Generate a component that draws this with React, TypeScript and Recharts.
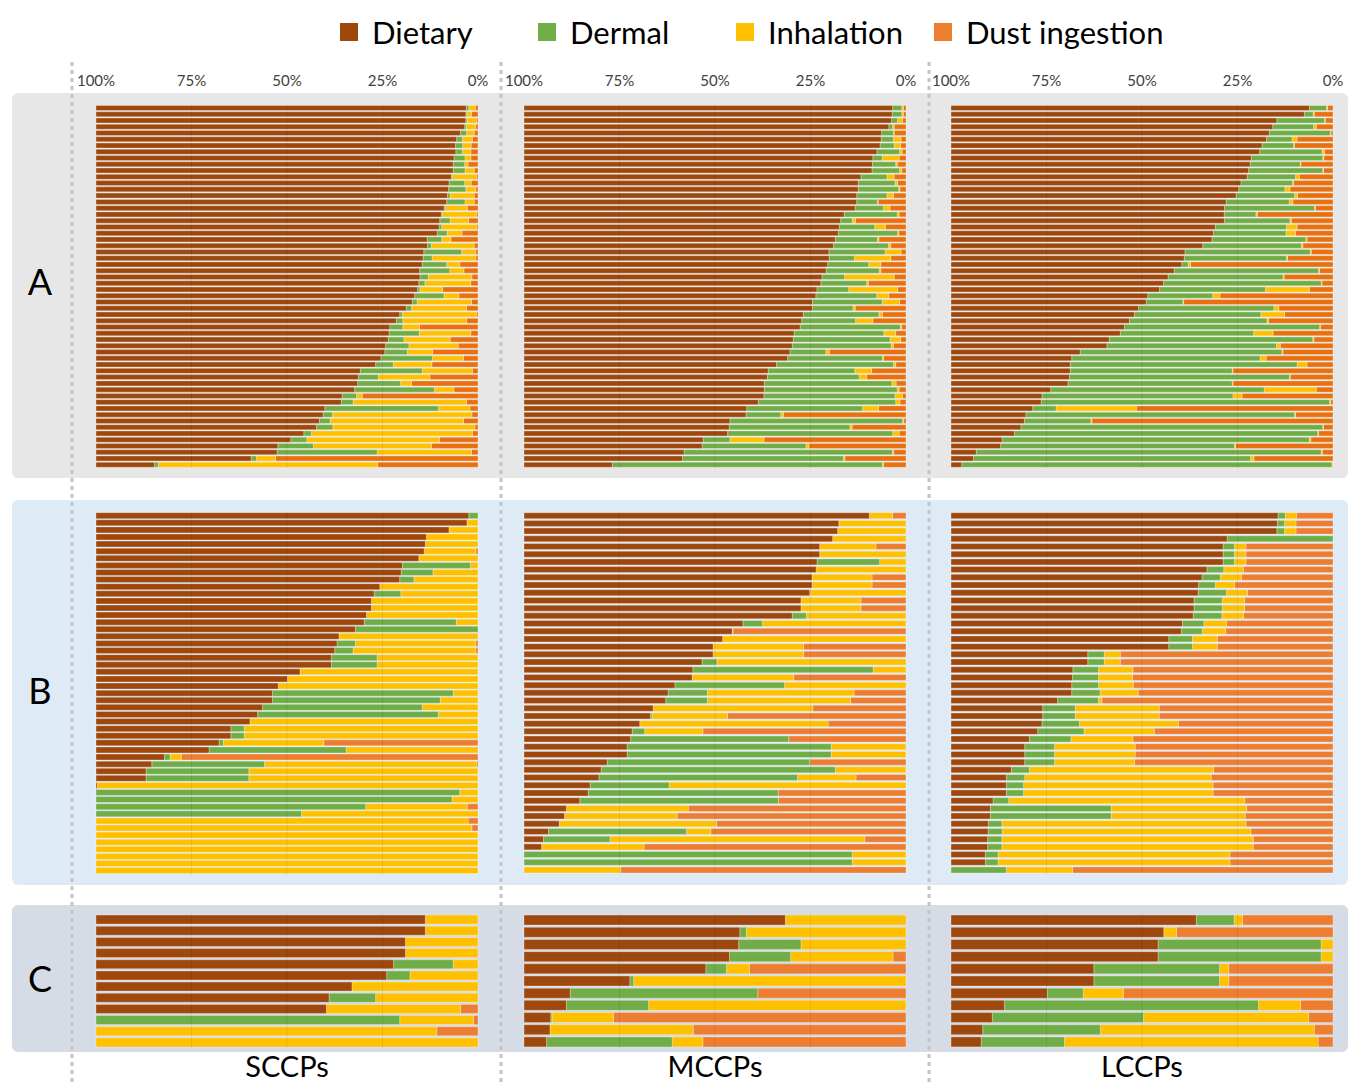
import React from "react";
import { BarChart, Bar, XAxis, YAxis, ReferenceLine } from "recharts";

const sources = ["Dietary", "Dermal", "Inhalation", "Dust ingestion"];
const sourceColors = ["#9E480E", "#70AD47", "#FFC000", "#ED7D31"];
const groups = ["SCCPs", "MCCPs", "LCCPs"];
const rowLabels = ["A", "B", "C"];
const pctTicks = [0, 0.25, 0.5, 0.75, 1];

// --- row A (58 samples each) ---
const sccpA_dietary = [96.9,96.8,96.8,96.5,95.4,94.4,94.1,94.1,93.7,93.5,93.4,93.0,92.4,92.2,92.0,91.7,91.1,90.4,89.9,89.8,89.3,86.7,86.7,85.8,85.6,85.4,84.8,84.8,84.5,84.1,83.4,82.8,81.2,79.5,78.7,76.9,76.7,76.5,75.8,75.6,74.5,73.2,69.2,68.6,68.5,67.7,64.4,64.2,59.9,59.4,58.6,57.7,54.4,51.0,47.6,47.4,40.6,15.3];
const sccpA_dermal = [0.7,0.3,0.3,0.4,1.6,1.5,1.9,1.7,2.9,3.0,3.1,0.3,4.1,4.5,0.7,4.8,0.4,0.3,2.7,0.7,2.6,3.8,1.0,9.9,2.4,6.4,7.9,2.2,1.6,0.6,7.7,1.3,1.4,0.7,1.7,3.4,7.9,4.1,6.1,5.9,13.5,4.6,16.2,5.2,11.2,20.9,3.8,3.1,29.7,2.4,2.8,4.3,2.0,4.2,9.3,26.2,1.4,1.0];
const sccpA_inhalation = [1.7,1.2,2.5,2.5,2.0,2.6,2.2,2.2,1.5,0.9,2.4,6.3,1.7,2.6,6.3,2.4,5.7,8.9,4.8,9.1,3.9,2.4,11.2,3.7,11.4,3.4,3.7,11.4,12.0,5.9,3.9,14.2,14.4,19.4,16.7,4.4,13.5,12.1,12.9,6.6,8.1,10.1,13.1,13.5,2.9,5.1,1.5,29.7,8.3,36.5,35.0,37.2,42.1,34.7,30.9,24.7,5.0,57.4];
const sccpA_dust = [0.7,1.7,0.4,0.6,1.0,1.5,1.8,1.9,1.9,2.6,1.0,0.4,1.8,0.6,1.0,1.0,2.8,0.4,2.5,0.4,4.2,7.1,1.0,0.6,0.6,4.8,3.7,1.6,1.9,9.3,5.0,1.7,3.0,0.4,3.0,15.3,1.9,7.3,5.2,11.9,3.8,12.1,1.5,12.6,17.4,6.3,30.3,3.0,2.1,1.6,3.8,0.8,1.5,10.1,12.2,1.7,53.0,26.3];

const mccpA_dietary = [96.5,96.3,96.2,95.5,93.6,93.4,93.2,92.3,91.3,91.2,91.0,88.1,87.5,87.5,87.1,87.1,86.6,83.8,82.9,82.5,82.3,81.5,81.0,79.8,79.8,79.5,79.0,78.0,77.7,76.6,76.4,75.5,75.5,73.1,72.7,72.2,70.7,70.5,70.2,69.6,69.0,66.1,63.9,63.7,62.9,62.9,62.8,61.3,58.3,58.1,53.9,53.7,53.3,46.9,46.6,41.9,41.5,23.1];
const mccpA_dermal = [2.4,2.5,1.6,1.0,3.1,3.2,3.7,5.9,2.5,6.1,7.2,6.8,9.6,10.6,7.9,5.4,7.4,13.9,3.0,9.3,15.5,11.0,14.4,14.7,6.6,10.7,13.9,5.9,12.0,8.3,15.9,18.3,10.6,19.8,14.1,26.2,23.5,25.3,25.9,9.4,24.8,30.6,22.7,24.0,33.4,34.8,34.3,36.0,30.3,9.1,45.2,31.6,43.2,7.0,27.2,54.5,42.1,70.7];
const mccpA_inhalation = [0.4,0.4,1.3,0.4,0.2,2.0,1.7,0.7,4.4,0.4,0.6,1.9,0.7,0.3,1.7,0.2,1.7,0.5,0.9,2.8,0.3,0.4,0.6,4.2,9.5,3.2,0.4,13.0,0.4,12.8,3.2,4.5,0.6,0.9,4.5,0.4,3.1,2.8,0.6,0.9,0.3,0.6,4.4,2.0,1.1,0.5,2.0,1.1,4.2,0.7,0.3,0.6,1.7,8.9,0.8,0.4,0.4,0.3];
const mccpA_dust = [0.7,0.7,0.9,3.1,3.1,1.3,1.4,1.0,1.8,2.3,1.1,3.1,2.2,1.6,3.3,7.3,4.2,1.8,13.2,5.4,1.9,7.1,4.0,1.3,4.0,6.6,6.6,3.1,9.9,2.2,4.5,1.7,13.3,6.2,8.7,1.1,2.7,1.4,3.3,20.1,5.9,2.7,9.0,10.3,2.6,1.8,0.9,1.6,7.2,32.1,0.6,14.1,1.8,37.2,25.4,3.2,16.0,5.9];

const lccpA_dietary = [93.8,92.5,85.3,84.3,83.3,82.5,81.4,80.8,78.6,78.3,77.9,77.5,75.9,75.3,74.7,72.1,71.6,71.5,71.5,69.2,68.7,68.3,65.9,61.3,61.0,60.4,58.4,56.8,55.6,54.6,51.5,51.1,49.1,48.0,46.7,45.4,44.3,41.4,40.8,33.8,31.6,31.2,31.2,31.0,30.6,26.1,23.8,23.6,21.4,19.6,19.2,18.3,16.6,13.4,13.0,6.6,5.9,2.8];
const lccpA_dermal = [4.5,2.3,12.5,10.7,16.0,6.7,8.3,16.3,18.7,13.1,19.4,12.7,13.5,12.1,15.3,16.5,23.5,8.3,17.1,18.6,19.0,24.6,25.8,32.8,26.7,1.7,37.8,30.1,41.3,27.7,17.0,9.6,35.4,33.1,36.0,51.1,34.9,53.3,44.4,52.8,49.3,59.4,42.4,57.6,43.0,55.9,50.0,75.5,6.1,70.3,17.4,79.0,79.4,80.4,61.2,90.3,72.5,96.9];
const lccpA_inhalation = [0.3,0.3,0.2,0.7,0.2,1.3,0.2,0.7,0.3,0.2,0.2,1.0,0.3,1.3,0.8,1.0,0.3,0.4,0.4,2.8,2.5,0.3,0.4,0.3,0.3,0.6,0.3,0.3,0.2,11.5,1.9,0.2,1.3,6.2,0.4,0.2,5.1,0.3,1.0,0.3,1.6,2.6,0.2,0.2,0.2,13.6,2.4,0.3,21.0,0.3,0.3,0.2,0.2,0.4,0.3,0.3,0.9,0.2];
const lccpA_dust = [1.4,4.9,2.0,4.4,0.5,9.4,10.1,2.2,2.4,8.4,2.5,8.8,10.3,11.3,9.3,10.5,4.6,19.8,10.9,9.4,9.8,6.8,7.9,5.7,11.9,37.3,3.5,12.8,2.9,6.2,29.6,39.1,14.2,12.7,16.9,3.3,15.7,5.0,13.8,13.1,17.5,6.8,26.2,11.2,26.2,4.4,23.8,0.6,51.5,9.8,63.1,2.5,3.8,5.8,25.5,2.8,20.7,0.1];

// --- row B ---
const sccpB_dietary = [97.6,97.1,92.4,86.5,86.2,85.9,84.5,80.2,79.9,79.5,74.3,72.8,72.1,72.1,70.8,70.2,67.9,63.6,63.1,62.5,61.6,61.6,53.4,50.1,47.7,46.2,46.2,43.6,42.3,40.3,35.3,35.3,32.2,29.6,17.9,14.6,13.1,13.1,0.3,0,0,0,0,0,0,0,0,0,0,0,0];
const sccpB_dermal = [2.4,0,0,0,0,0,0,17.8,8.3,3.7,0,7.0,0,0,0,24.1,32.1,0,4.8,4.8,12.0,12.0,0,0,0,47.3,43.9,41.8,47.3,0,3.5,3.5,1.1,35.9,1.5,29.5,26.9,26.9,0,95.2,93.2,70.6,53.8,0,0,0,0,0,0,0,0];
const sccpB_inhalation = [0,2.9,7.6,13.5,13.8,13.5,15.5,2.0,11.8,16.8,25.7,20.2,27.9,27.9,29.2,5.7,0,36.4,31.5,32.1,26.4,26.4,46.6,49.9,52.3,6.5,9.9,14.6,10.4,59.7,61.2,61.2,26.3,34.5,2.9,55.5,60.0,60.0,99.7,4.8,6.8,26.6,46.2,97.4,98.4,100,100,100,100,100,100];
const sccpB_dust = [0,0,0,0,0,0.6,0,0,0,0,0,0,0,0,0,0,0,0,0.6,0.6,0,0,0,0,0,0,0,0,0,0,0,0,40.4,0,77.7,0.4,0,0,0,0,0,2.8,0,2.6,1.6,0,0,0,0,0,0];

const mccpB_dietary = [90.4,82.4,82.1,80.8,77.4,77.4,76.7,76.5,75.4,75.4,74.8,72.5,72.5,70.2,57.3,54.5,52.0,49.5,49.5,46.6,44.2,44.0,39.5,37.7,37.1,33.8,33.1,30.3,28.3,27.9,27.0,27.0,21.8,20.2,19.6,17.3,16.8,14.6,11.1,10.6,9.2,6.4,5.1,4.6,0,0,0];
const mccpB_dermal = [0,0,0,0,0,0,16.4,0,0,0,0,0,0,3.7,5.1,0,0,0,0,3.9,47.2,0,28.7,10.3,10.9,0,0.4,0,3.3,41.4,53.4,53.4,53.0,61.3,52.0,20.7,49.7,52.0,0,0,0,36.1,17.4,0,85.9,85.9,0];
const mccpB_inhalation = [6.1,17.6,17.9,19.2,14.7,22.6,6.9,23.5,15.7,15.7,25.2,15.7,15.7,26.1,37.6,0.2,48.0,23.7,23.7,49.5,8.6,26.6,31.8,38.4,37.5,41.8,19.8,49.3,15.2,0,19.6,19.6,0,18.5,15.3,62.0,0,0,31.9,29.5,41.2,6.4,66.7,26.8,14.1,14.1,25.3];
const mccpB_dust = [3.5,0,0,0,7.9,0,0,0,8.9,8.9,0,11.8,11.8,0,0,45.3,0,26.8,26.8,0,0,29.4,0,13.6,14.5,24.4,46.7,20.4,53.2,30.7,0,0,25.2,0,13.1,0,33.5,33.4,57.0,59.9,49.6,51.1,10.8,68.6,0,0,74.7];

const lccpB_dietary = [85.6,85.4,85.3,72.3,71.2,71.2,71.2,67.0,65.7,64.8,64.7,63.6,63.6,63.4,60.6,60.3,57.0,57.0,35.8,35.8,31.9,31.8,31.6,31.6,27.9,24.0,24.0,23.8,22.7,20.5,19.3,19.3,19.3,15.8,14.5,14.5,14.5,11.0,10.3,10.3,9.8,9.7,9.6,9.6,9.0,9.0,0];
const lccpB_dermal = [1.9,1.9,2.0,27.7,3.0,3.0,3.0,4.4,4.8,4.4,7.4,7.4,7.4,7.5,5.6,5.5,6.2,6.2,4.3,4.3,6.7,6.8,7.0,7.4,10.7,8.5,8.5,9.8,12.1,10.9,7.8,7.8,7.8,4.7,4.8,4.5,4.5,4.1,31.6,31.6,3.5,3.7,3.7,3.7,3.3,3.3,14.5];
const lccpB_inhalation = [2.9,3.0,3.0,0,3.0,3.0,3.0,5.1,5.5,5.0,5.5,5.8,5.8,5.7,5.9,6.1,6.5,6.5,4.2,4.2,9.0,8.9,9.1,10.0,0.9,22.0,22.0,25.9,18.4,16.2,21.1,21.1,20.9,48.2,48.8,49.6,49.6,61.8,35.5,35.1,63.9,65.1,65.8,65.8,60.7,60.7,17.3];
const lccpB_dust = [9.6,9.7,9.7,0,22.8,22.8,22.8,23.5,24.0,25.8,22.4,23.2,23.2,23.4,27.9,28.1,30.3,30.3,55.7,55.7,52.4,52.5,52.3,51.0,60.5,45.5,45.5,40.5,46.8,52.4,51.8,51.8,52.0,31.3,31.9,31.4,31.4,23.1,22.6,23.0,22.8,21.5,20.9,20.9,27.0,27.0,68.2];

// --- row C ---
const sccpC_dietary = [86.2,86.2,81.0,81.0,77.9,76.1,67.0,61.0,60.3,0,0,0];
const sccpC_dermal = [0,0,0,0,15.6,6.1,0,12.2,0,79.5,0,0];
const sccpC_inhalation = [13.8,13.8,19.0,19.0,6.5,17.8,33.0,26.8,35.1,19.3,89.2,100];
const sccpC_dust = [0,0,0,0,0,0,0,0,4.6,1.2,10.8,0];

const mccpC_dietary = [68.4,56.5,56.2,53.8,47.6,27.7,12.1,11.1,7.0,6.8,5.9];
const mccpC_dermal = [0,1.7,16.3,16.0,5.4,1.0,49.1,21.5,0.3,0,32.9];
const mccpC_inhalation = [31.6,41.8,27.5,26.8,6.0,71.3,0,67.4,16.1,37.5,8.0];
const mccpC_dust = [0,0,0,3.4,41.0,0,38.8,0,76.6,55.7,53.2];

const lccpC_dietary = [64.2,55.7,54.2,54.2,37.4,37.4,25.2,14.0,10.8,8.3,7.9];
const lccpC_dermal = [9.9,0,42.7,42.7,32.9,32.9,9.4,66.5,39.6,30.8,21.8];
const lccpC_inhalation = [2.2,3.3,3.1,3.1,2.4,2.4,10.5,11.0,43.2,56.0,66.4];
const lccpC_dust = [23.7,41.0,0,0,27.3,27.3,54.9,8.5,6.4,4.9,3.9];

function toRows(d: number[], de: number[], inh: number[], du: number[]) {
  return d.map((v, k) => ({ id: k, dietary: v, dermal: de[k], inhalation: inh[k], dust: du[k] }));
}

const panels = [
  [toRows(sccpA_dietary, sccpA_dermal, sccpA_inhalation, sccpA_dust),
   toRows(mccpA_dietary, mccpA_dermal, mccpA_inhalation, mccpA_dust),
   toRows(lccpA_dietary, lccpA_dermal, lccpA_inhalation, lccpA_dust)],
  [toRows(sccpB_dietary, sccpB_dermal, sccpB_inhalation, sccpB_dust),
   toRows(mccpB_dietary, mccpB_dermal, mccpB_inhalation, mccpB_dust),
   toRows(lccpB_dietary, lccpB_dermal, lccpB_inhalation, lccpB_dust)],
  [toRows(sccpC_dietary, sccpC_dermal, sccpC_inhalation, sccpC_dust),
   toRows(mccpC_dietary, mccpC_dermal, mccpC_inhalation, mccpC_dust),
   toRows(lccpC_dietary, lccpC_dermal, lccpC_inhalation, lccpC_dust)],
];

const FONT = "Lato, 'Noto Sans', sans-serif";
const PLOT_W = 382;
const PAD = 26;
const colLeft = [96, 524, 951];
// per row: plot top, plot height, bar gap, band colour, band top/bottom
const rowLayout = [
  { top: 105, h: 363, gap: 0.5, bg: "#E7E7E7", bgTop: 93, bgBottom: 478, dust: "#E9700F", labelY: 281 },
  { top: 512, h: 362, gap: 0.7, bg: "#DEEBF7", bgTop: 500, bgBottom: 885, dust: "#ED7D31", labelY: 690 },
  { top: 914, h: 134, gap: 1.1, bg: "#D6DCE5", bgTop: 905, bgBottom: 1052, dust: "#ED7D31", labelY: 978 },
];
const dividers = [72, 501, 929];

function Panel({ rows, left, top, h, gap, dust, showAxis }: any) {
  const axisH = showAxis ? 40 : 0;
  return (
    <div style={{ position: "absolute", left: left - PAD, top: top - axisH }}>
      <BarChart
        width={PLOT_W + PAD * 2}
        height={h + axisH}
        data={rows}
        layout="vertical"
        stackOffset="expand"
        barCategoryGap={gap}
        margin={{ top: 0, right: PAD, bottom: 0, left: PAD }}
      >
        <XAxis
          type="number"
          domain={[0, 1]}
          reversed
          orientation="top"
          ticks={pctTicks}
          interval={0}
          hide={!showAxis}
          height={axisH}
          axisLine={false}
          tickLine={false}
          tickSize={0}
          tickMargin={19}
          tickFormatter={(v) => `${Math.round(v * 100)}%`}
          tick={{ fill: "#404040", fontSize: 15, fontFamily: FONT }}
        />
        <YAxis type="category" dataKey="id" hide />
        <Bar dataKey="dust" stackId="s" fill={dust} stroke="#fff" strokeOpacity={0.5} strokeWidth={0.6} isAnimationActive={false} />
        <Bar dataKey="inhalation" stackId="s" fill={sourceColors[2]} stroke="#fff" strokeOpacity={0.5} strokeWidth={0.6} isAnimationActive={false} />
        <Bar dataKey="dermal" stackId="s" fill={sourceColors[1]} stroke="#fff" strokeOpacity={0.5} strokeWidth={0.6} isAnimationActive={false} />
        <Bar dataKey="dietary" stackId="s" fill={sourceColors[0]} stroke="#fff" strokeOpacity={0.5} strokeWidth={0.6} isAnimationActive={false} />
        {[0.25, 0.5, 0.75].map((v) => (
          <ReferenceLine key={v} x={v} stroke="#000" strokeOpacity={0.07} strokeWidth={1} />
        ))}
      </BarChart>
    </div>
  );
}

export default function App() {
  return (
    <div style={{ position: "absolute", left: 0, top: 0, width: 1352, height: 1084, background: "#fff", overflow: "hidden", fontFamily: FONT }}>
      {/* legend */}
      {sources.map((s, i) => (
        <div key={s} style={{ position: "absolute", left: 340 + i * 198, top: 14, height: 36, display: "flex", alignItems: "center" }}>
          <div style={{ width: 18, height: 18, background: sourceColors[i], marginRight: 14 }} />
          <span style={{ fontSize: 31, color: "#000", lineHeight: 1 }}>{s}</span>
        </div>
      ))}

      {/* row bands */}
      {rowLayout.map((r, i) => (
        <div key={i} style={{ position: "absolute", left: 12, top: r.bgTop, width: 1336, height: r.bgBottom - r.bgTop, background: r.bg, borderRadius: 6 }} />
      ))}

      {/* dotted dividers */}
      <svg width={1352} height={1084} style={{ position: "absolute", left: 0, top: 0 }}>
        {dividers.map((x) => (
          <line key={x} x1={x} x2={x} y1={62} y2={1084} stroke="#C4C4C4" strokeWidth={3} strokeDasharray="4 4" />
        ))}
      </svg>

      {/* row letters */}
      {rowLabels.map((l, i) => (
        <div key={l} style={{ position: "absolute", left: 40, top: rowLayout[i].labelY, transform: "translate(-50%, -50%)", fontSize: 36, lineHeight: 1, color: "#000" }}>
          {l}
        </div>
      ))}

      {/* panels */}
      {panels.map((row, ri) =>
        row.map((rows, ci) => (
          <Panel
            key={`${ri}-${ci}`}
            rows={rows}
            left={colLeft[ci]}
            top={rowLayout[ri].top}
            h={rowLayout[ri].h}
            gap={rowLayout[ri].gap}
            dust={rowLayout[ri].dust}
            showAxis={ri === 0}
          />
        ))
      )}

      {/* group names */}
      {groups.map((g, i) => (
        <div key={g} style={{ position: "absolute", left: colLeft[i] + PLOT_W / 2, top: 1066, transform: "translate(-50%, -50%)", fontSize: 29, lineHeight: 1.1, color: "#000" }}>
          {g}
        </div>
      ))}
    </div>
  );
}
